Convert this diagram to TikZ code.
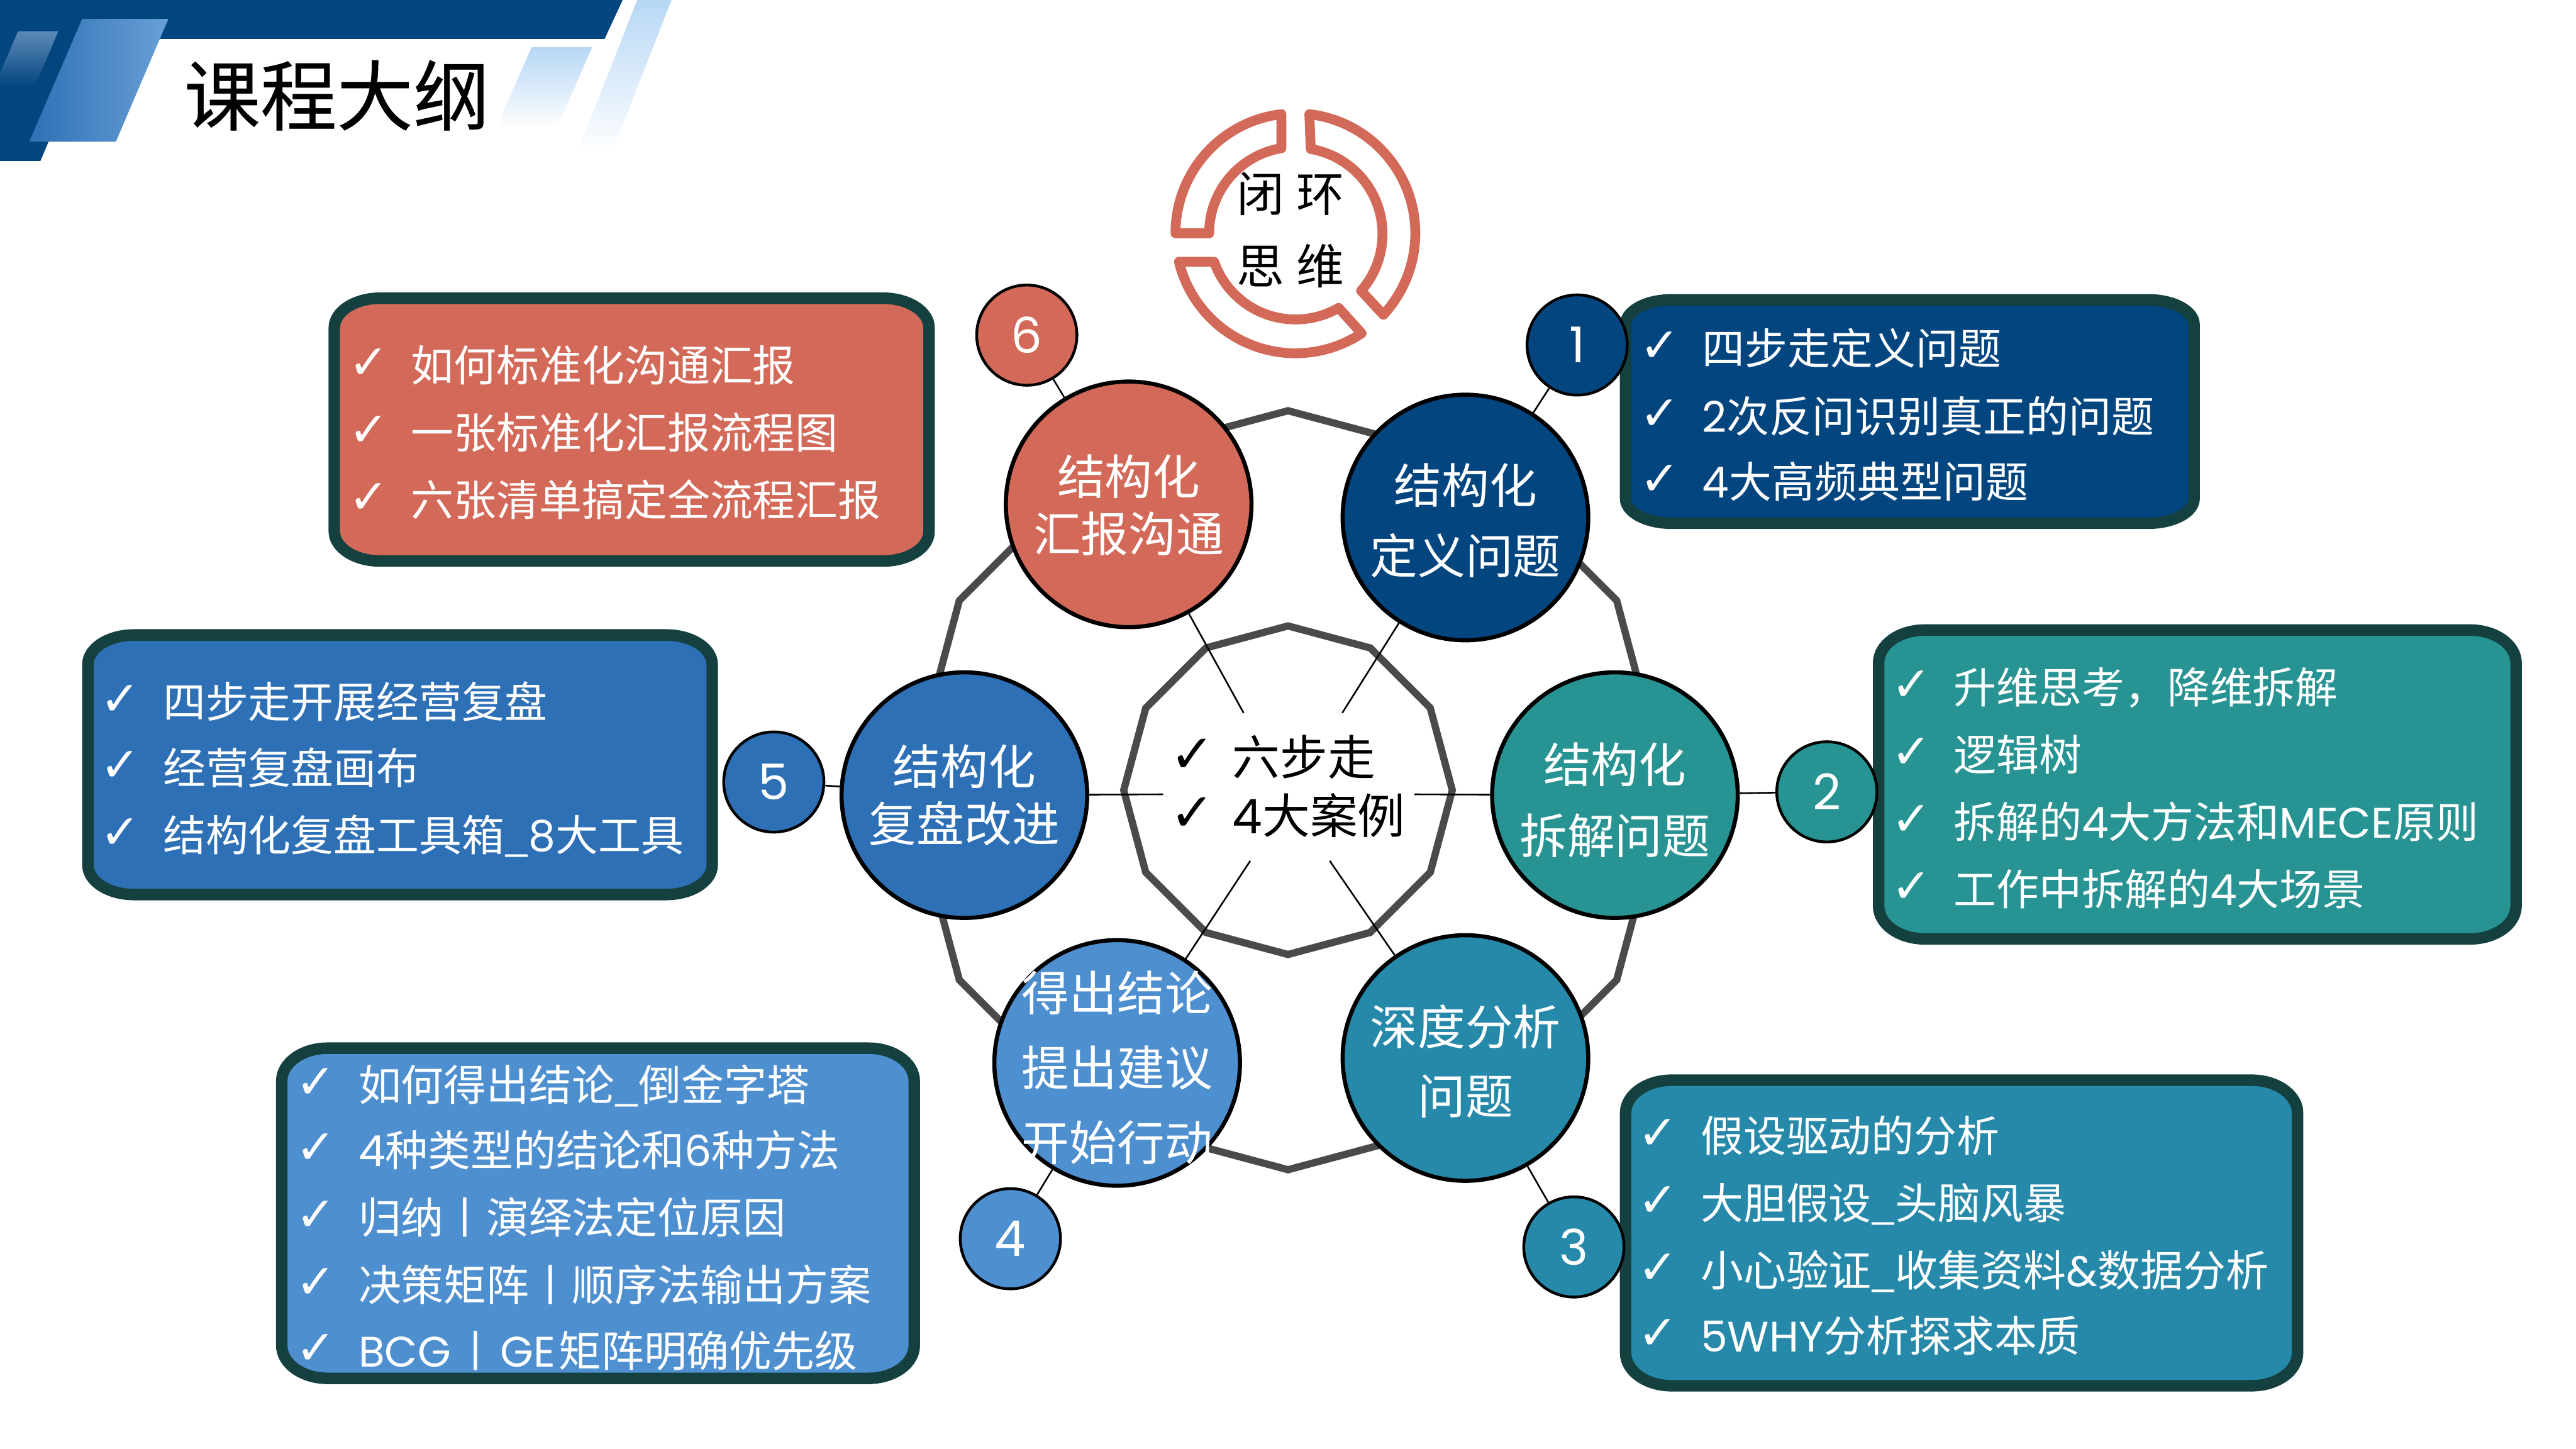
\documentclass[tikz,border=0pt]{standalone}
\usepackage{fontspec}
\setmainfont{Noto Sans CJK SC}
\newfontfamily\checkfont[Scale=1.12]{DejaVu Sans}
\newfontfamily\latinfont{Poppins}
\newfontfamily\titlefont[FakeBold=0.4]{Noto Sans CJK SC}
\usetikzlibrary{shapes.geometric,shadows}
\definecolor{deepblue}{HTML}{03457F}
\definecolor{midblue}{HTML}{2E70B5}
\definecolor{skyblue}{HTML}{4E8FD0}
\definecolor{paleblue}{HTML}{B7D7F5}
\definecolor{teal1}{HTML}{279393}
\definecolor{teal2}{HTML}{2689A9}
\definecolor{brick}{HTML}{D36958}
\definecolor{boxedge}{HTML}{14403F}
\definecolor{polygrey}{HTML}{4A4A4A}
\newcommand{\tick}{\makebox[36pt][l]{\hspace{-2pt}\raisebox{1.5pt}{\checkfont ✓}}}
\newcommand{\lat}[1]{{\latinfont #1}}
% left, top, right, bottom, fill, corner height
\newcommand{\panel}[6]{
  \draw[listbox, fill=#5] ({#1+28},#2) -- ({#3-28},#2)
    arc[start angle=90, end angle=0, x radius=28pt, y radius=#6pt] -- (#3,{#4-#6})
    arc[start angle=0, end angle=-90, x radius=28pt, y radius=#6pt] -- ({#1+28},#4)
    arc[start angle=-90, end angle=-180, x radius=28pt, y radius=#6pt] -- (#1,{#2+#6})
    arc[start angle=180, end angle=90, x radius=28pt, y radius=#6pt] -- cycle;
}
\tikzset{
  polyline/.style={draw=polygrey, line width=4.4pt, regular polygon, regular polygon sides=12, regular polygon rotate=15, inner sep=0pt},
  bigcircle/.style={circle, draw=black, line width=2.5pt, minimum size=149.5pt, inner sep=0pt},
  bigtext/.style={text=white, align=center, font=\fontsize{29}{35}\selectfont},
  numcircle/.style={circle, draw=black, line width=1.7pt, minimum size=61pt, inner sep=0pt, text=white, font=\latinfont\fontsize{30}{36}\selectfont},
  listbox/.style={draw=boxedge, line width=7pt, drop shadow={shadow xshift=2.5pt, shadow yshift=-2.5pt, fill=black, opacity=0.22}},
  rowtext/.style={anchor=west, inner sep=0pt, text=white, text height=23pt, text depth=3pt, font=\fontsize{26}{30}\selectfont},
  ringline/.style={draw=brick, line width=6pt, line join=round},
  thinline/.style={draw=black, line width=1pt}
}
\begin{document}
\begin{tikzpicture}[x=1pt, y=-1pt]
    \useasboundingbox (0,0) rectangle (1568,882);
    % header
    \fill[deepblue] (0,0) -- (379,0) -- (368,23.7) -- (56,23.7) -- (24.6,98) -- (0,98) -- cycle;
    \shade[left color=midblue, right color=skyblue!85!white] (50,11.5) -- (102.5,11.5) -- (70.5,86.3) -- (17.8,86.3) -- cycle;
    \shade[top color=skyblue!70!gray, bottom color=deepblue] (11,19) -- (35.5,19) -- (21.3,52.6) -- (-3.5,52.6) -- cycle;
    \shade[top color=paleblue, bottom color=white] (323.5,28.8) -- (360.4,28.8) -- (339,78) -- (302,78) -- cycle;
    \shade[top color=paleblue, bottom color=white] (387.8,0) -- (408.8,0) -- (372,94) -- (351,94) -- cycle;
    \node[font=\titlefont\fontsize{46.5}{50}\selectfont] (title) at (205,58) {课程大纲};
    % ring
    \draw[ringline] (715.5,142) arc[start angle=180, end angle=96.7, radius=73pt] -- (780,90.2) arc[start angle=99.3, end angle=180, radius=52.5pt] -- cycle;
    \draw[ringline] (797,69.5) arc[start angle=83.3, end angle=-42.8, radius=73pt] -- (828.5,177) arc[start angle=-41.2, end angle=80.3, radius=52.5pt] -- cycle;
    \draw[ringline] (828.8,202.9) arc[start angle=-56.5, end angle=-166.3, radius=73pt] -- (739,159.3) arc[start angle=-160.7, end angle=-60, radius=52.5pt] -- cycle;
    \node[font=\fontsize{29}{32}\selectfont] (ringtop) at (785.5,118) {闭\hspace{7.5pt}环};
    \node[font=\fontsize{29}{32}\selectfont] (ringbot) at (785.5,162) {思\hspace{7.5pt}维};
    % polygons
    \node[polyline, minimum size=462pt] (outerpoly) at (784,481) {};
    \node[polyline, minimum size=200pt] (innerpoly) at (784,481) {};
    % centre
    \node[anchor=west, inner sep=0pt, align=left, font=\fontsize{29}{35.5}\selectfont] (centre) at (714,478.5) {\tick 六步走\\\tick \lat{4}大案例};
    \coordinate (e1) at (817,434);
    \coordinate (e2) at (861,483.5);
    \coordinate (e3) at (809.4,524);
    \coordinate (e4) at (761,524);
    \coordinate (e5) at (708,483.5);
    \coordinate (e6) at (757,434);
    % main circles
    \node[bigcircle, fill=deepblue, label={[bigtext,yshift=-2pt]center:结构化\\[8pt]定义问题}] (c1) at (892,315) {};
    \node[bigcircle, fill=teal1, label={[bigtext,yshift=-3pt]center:结构化\\[8pt]拆解问题}] (c2) at (983,484) {};
    \node[bigcircle, fill=teal2, label={[bigtext,yshift=-2pt]center:深度分析\\[7pt]问题}] (c3) at (892,644) {};
    \node[bigcircle, fill=skyblue, label={[bigtext,yshift=-3pt]center:得出结论\\[10.5pt]提出建议\\[10.5pt]开始行动}] (c4) at (680,647) {};
    \node[bigcircle, fill=midblue, label={[bigtext]center:结构化\\复盘改进}] (c5) at (587,484) {};
    \node[bigcircle, fill=brick, label={[bigtext,yshift=-0.5pt]center:结构化\\汇报沟通}] (c6) at (687,307) {};
    \draw[thinline] (c1) -- (e1);
    \draw[thinline] (c2) -- (e2);
    \draw[thinline] (c3) -- (e3);
    \draw[thinline] (c4) -- (e4);
    \draw[thinline] (c5) -- (e5);
    \draw[thinline] (c6) -- (e6);
    % lists
    \panel{989.5}{182.5}{1335.5}{318.5}{deepblue}{15}
    \node[rowtext] (r11) at (1000,212) {\tick 四步走定义问题};
    \node[rowtext] (r12) at (1000,253) {\tick \lat{2}次反问识别真正的问题};
    \node[rowtext] (r13) at (1000,293) {\tick \lat{4}大高频典型问题};
    \panel{1143.5}{383.5}{1531.5}{571.5}{teal1}{20}
    \node[rowtext] (r21) at (1153,418) {\tick 升维思考，降维拆解};
    \node[rowtext] (r22) at (1153,459) {\tick 逻辑树};
    \node[rowtext] (r23) at (1153,500) {\tick 拆解的\lat{4}大方法和\lat{MECE}原则};
    \node[rowtext] (r24) at (1153,541) {\tick 工作中拆解的\lat{4}大场景};
    \panel{989.5}{657.5}{1398.5}{843.5}{teal2}{20}
    \node[rowtext] (r31) at (999,691) {\tick 假设驱动的分析};
    \node[rowtext] (r32) at (999,732) {\tick 大胆假设\_头脑风暴};
    \node[rowtext] (r33) at (999,773) {\tick 小心验证\_收集资料\lat{\&}数据分析};
    \node[rowtext] (r34) at (999,813) {\tick \lat{5WHY}分析探求本质};
    \panel{171.5}{638}{556.5}{839}{skyblue}{20}
    \node[rowtext] (r41) at (182,660) {\tick 如何得出结论\_倒金字塔};
    \node[rowtext] (r42) at (182,700) {\tick \lat{4}种类型的结论和\lat{6}种方法};
    \node[rowtext] (r43) at (182,741) {\tick 归纳丨演绎法定位原因};
    \node[rowtext] (r44) at (182,782) {\tick 决策矩阵丨顺序法输出方案};
    \node[rowtext] (r45) at (182,822) {\tick \lat{BCG}\hspace{2pt}丨\hspace{2pt}\lat{GE}\hspace{2pt}矩阵明确优先级};
    \panel{53.5}{386.5}{433.5}{544.5}{midblue}{18}
    \node[rowtext] (r51) at (63,427) {\tick 四步走开展经营复盘};
    \node[rowtext] (r52) at (63,467) {\tick 经营复盘画布};
    \node[rowtext] (r53) at (63,508) {\tick 结构化复盘工具箱\_\lat{8}大工具};
    \panel{203.5}{181.5}{565.5}{341.5}{brick}{18}
    \node[rowtext] (r61) at (214,222) {\tick 如何标准化沟通汇报};
    \node[rowtext] (r62) at (214,263) {\tick 一张标准化汇报流程图};
    \node[rowtext] (r63) at (214,304) {\tick 六张清单搞定全流程汇报};
    % numbers
    \node[numcircle, fill=deepblue] (n1) at (960,210) {1};
    \node[numcircle, fill=teal1] (n2) at (1112,482) {2};
    \node[numcircle, fill=teal2] (n3) at (958,759) {3};
    \node[numcircle, fill=skyblue] (n4) at (615,754) {4};
    \node[numcircle, fill=midblue] (n5) at (471,476) {5};
    \node[numcircle, fill=brick] (n6) at (625,204) {6};
    \draw[thinline] (n1) -- (c1);
    \draw[thinline] (n2) -- (c2);
    \draw[thinline] (n3) -- (c3);
    \draw[thinline] (n4) -- (c4);
    \draw[thinline] (n5) -- (c5);
    \draw[thinline] (n6) -- (c6);
  \end{tikzpicture}
\end{document}
